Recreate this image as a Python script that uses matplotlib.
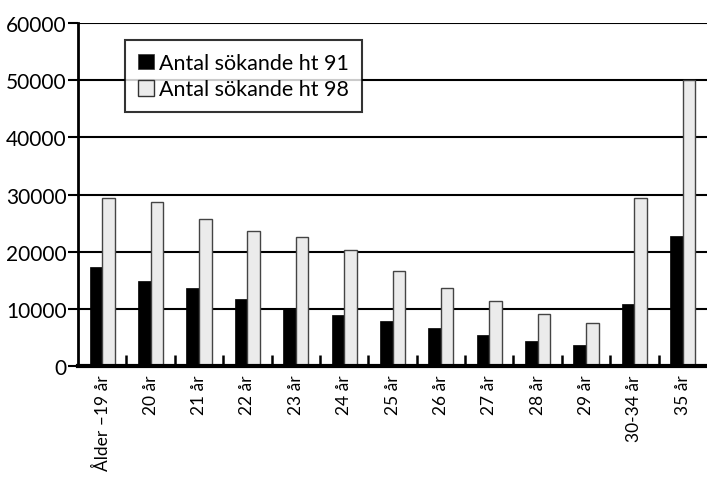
import matplotlib
matplotlib.use("Agg")
import matplotlib.pyplot as plt
import numpy as np

# alder-grupper och antal sokande
kategorier = ["Ålder –19 år", "20 år", "21 år", "22 år", "23 år", "24 år", "25 år",
              "26 år", "27 år", "28 år", "29 år", "30-34 år", "35 år"]
ht91 = [17300, 14900, 13700, 11700, 10100, 8900, 7900, 6600, 5500, 4400, 3700, 10800, 22800]
ht98 = [29400, 28700, 25700, 23600, 22500, 20300, 16700, 13700, 11400, 9100, 7600, 29400, 50100]
yticks = [0, 10000, 20000, 30000, 40000, 50000, 60000]

plt.rcParams['font.family'] = ['Lato', 'DejaVu Sans']

fig = plt.figure(figsize=(7.07, 4.81), dpi=100)
ax = fig.add_axes([78/707, (481-367)/481, 1 - 78/707, (367-24)/481])

x = np.arange(len(kategorier))
w = 0.26
ax.bar(x - w/2, ht91, width=w, color='black', edgecolor='black', linewidth=0.5,
       label='Antal sökande ht 91', zorder=3)
ax.bar(x + w/2, ht98, width=w, color='#ebebeb', edgecolor='#444444', linewidth=1.0,
       label='Antal sökande ht 98', zorder=3)

ax.set_xlim(-0.5, len(kategorier) - 0.5)
ax.set_ylim(0, 60000)
ax.set_yticks(yticks)
ax.set_yticklabels([str(v) for v in yticks], fontsize=15)
ax.yaxis.grid(True, color='black', linewidth=1.5, zorder=1)

ax.set_xticks(x)
ax.set_xticklabels(kategorier, rotation=90, fontsize=12.5)
ax.tick_params(axis='x', which='major', length=0, pad=6)
ax.set_xticks(np.arange(0.5, len(kategorier) - 1, 1), minor=True)
ax.tick_params(axis='x', which='minor', direction='in', length=8, width=1.8, color='black')
ax.tick_params(axis='y', length=7, width=1.5, pad=1)

for s in ['top', 'right']:
    ax.spines[s].set_visible(False)
ax.spines['left'].set_linewidth(2)
ax.spines['bottom'].set_linewidth(3)
ax.spines['bottom'].set_zorder(4)

leg = ax.legend(loc='upper left', bbox_to_anchor=(47/629, 1 - 17/343), fontsize=15.5,
                frameon=True, fancybox=False, handlelength=0.75, handleheight=0.75,
                handletextpad=0.25, borderpad=0.6, labelspacing=0.3, borderaxespad=0)
leg.get_frame().set_edgecolor('black')
leg.get_frame().set_linewidth(1.5)
leg.set_zorder(5)
for h in leg.legend_handles:
    h.set_edgecolor('#333333')

plt.savefig('out.png', dpi=100)
